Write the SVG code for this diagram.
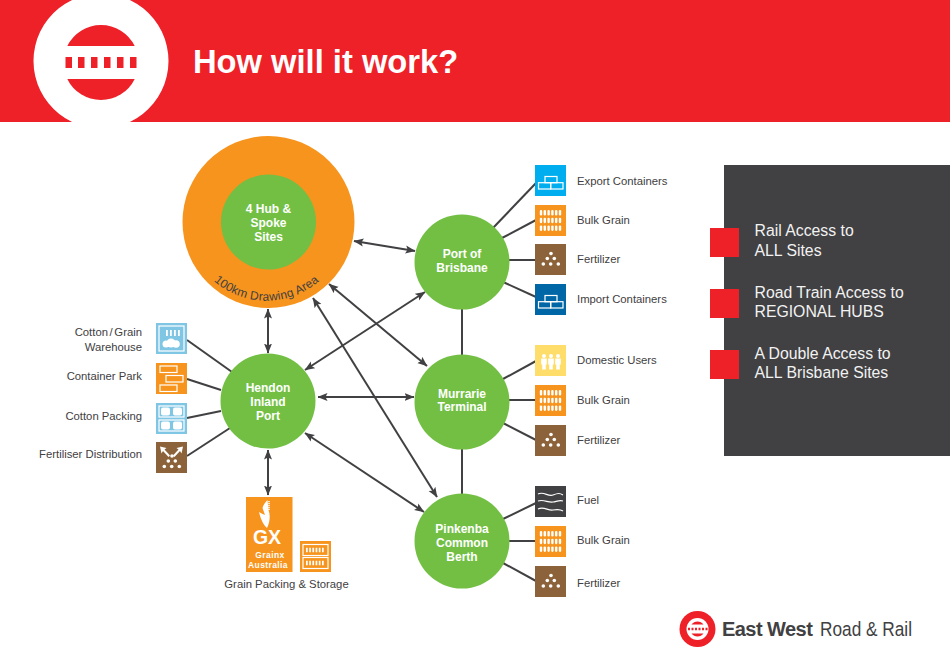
<svg xmlns="http://www.w3.org/2000/svg" width="950" height="672" viewBox="0 0 950 672">
<style>
text{font-family:"Liberation Sans",Arial,sans-serif}
.lab{font-size:11.3px;fill:#414042}
.end{text-anchor:end}
.node{font-size:12px;font-weight:bold;fill:#fff;text-anchor:middle}
.panel{font-size:15.8px;fill:#f1f2f2}
.ln{stroke:#414042;stroke-width:2;fill:none}
.arr{marker-start:url(#ah);marker-end:url(#ah)}
.g{fill:#72bf44}
.w{fill:#fff}
.wl{fill:none;stroke:#fff;stroke-width:1.2}
.bgr{fill:#ee2028}
.gx{font-weight:bold;fill:#fff;text-anchor:middle}
</style>
<defs>
<marker id="ah" viewBox="0 0 10 10" refX="9.5" refY="5" markerUnits="userSpaceOnUse" markerWidth="10" markerHeight="10" orient="auto-start-reverse"><path d="M0 1L10 5L0 9L2 5Z" fill="#414042"/></marker>
<g id="pills"><g id="pr"><rect x="6" y="5" width="2.4" height="5.5" rx="1.1" class="w"/><rect x="9.8" y="5" width="2.4" height="5.5" rx="1.1" class="w"/><rect x="13.6" y="5" width="2.4" height="5.5" rx="1.1" class="w"/><rect x="17.4" y="5" width="2.4" height="5.5" rx="1.1" class="w"/><rect x="21.2" y="5" width="2.4" height="5.5" rx="1.1" class="w"/><rect x="25" y="5" width="2.4" height="5.5" rx="1.1" class="w"/></g><use href="#pr" y="7.7"/><use href="#pr" y="15.4"/></g>
<g id="ico-grain"><rect width="31" height="31" fill="#f7941d"/><use href="#pills" x="-1.2"/></g>
<g id="dots"><circle cx="16" cy="9.500" r="1.800" class="w"/><circle cx="12.300" cy="14.500" r="1.800" class="w"/><circle cx="19.300" cy="14.500" r="1.800" class="w"/><circle cx="8.300" cy="20" r="1.800" class="w"/><circle cx="15.700" cy="20" r="1.800" class="w"/><circle cx="23.300" cy="20" r="1.800" class="w"/></g>
<g id="ico-fert"><rect width="31" height="31" fill="#8b6239"/><use href="#dots"/></g>
<g id="boxes"><rect x="10" y="11.500" width="12" height="6.200" class="wl"/><rect x="3.500" y="17.700" width="12.200" height="6.300" class="wl"/><rect x="15.700" y="17.700" width="12.300" height="6.300" class="wl"/></g>
<g id="person"><circle cx="0" cy="11.500" r="2" class="w"/><path d="M-2.800 14h5.600v6h-1v5h-3.600v-5h-1Z" class="w"/></g>
</defs>
<rect width="950" height="672" fill="#fff"/>
<g id="header">
<rect width="950" height="122" class="bgr"/>
<path d="M72.100 122A67.500 67.500 0 1 1 129.900 122Z" fill="#fff"/>
<path d="M67.300 46A37.500 37.500 0 0 1 134.700 46Z" class="bgr"/>
<path d="M67.300 79A37.500 37.500 0 0 0 134.700 79Z" class="bgr"/>
<g class="bgr"><rect x="65.500" y="57" width="6.500" height="11"/><rect x="78" y="57" width="6.500" height="11"/><rect x="91" y="57" width="6.500" height="11"/><rect x="104" y="57" width="6.500" height="11"/><rect x="117" y="57" width="6.500" height="11"/><rect x="130" y="57" width="6.500" height="11"/></g>
<text x="193" y="73" font-size="32.700" font-weight="bold" fill="#fff">How will it work?</text>
</g>
<g id="connectors">
<line class="ln arr" x1="354" y1="241" x2="415" y2="251"/>
<line class="ln arr" x1="268" y1="309" x2="268" y2="353"/>
<line class="ln arr" x1="305" y1="370" x2="425" y2="292"/>
<line class="ln arr" x1="329" y1="284" x2="427" y2="366"/>
<line class="ln arr" x1="313" y1="298" x2="437" y2="497"/>
<line class="ln arr" x1="318" y1="397" x2="414" y2="397"/>
<line class="ln arr" x1="305" y1="433" x2="424" y2="512"/>
<line class="ln arr" x1="268" y1="450" x2="268" y2="495"/>
<line class="ln" x1="462" y1="308" x2="462" y2="356"/>
<line class="ln" x1="462" y1="448" x2="462" y2="496"/>
<line class="ln" x1="493" y1="228" x2="536" y2="183"/>
<line class="ln" x1="502" y1="238" x2="536" y2="220"/>
<line class="ln" x1="509" y1="260" x2="536" y2="260"/>
<line class="ln" x1="503" y1="282" x2="536" y2="297"/>
<line class="ln" x1="503" y1="379" x2="536" y2="361"/>
<line class="ln" x1="509" y1="400" x2="536" y2="400"/>
<line class="ln" x1="503" y1="423" x2="536" y2="440"/>
<line class="ln" x1="503" y1="519" x2="536" y2="503"/>
<line class="ln" x1="509" y1="541" x2="536" y2="541"/>
<line class="ln" x1="503" y1="563" x2="536" y2="581"/>
<line class="ln" x1="187" y1="340" x2="232" y2="372"/>
<line class="ln" x1="187" y1="379" x2="221" y2="390"/>
<line class="ln" x1="187" y1="418" x2="221" y2="411"/>
<line class="ln" x1="187" y1="456" x2="230" y2="428"/>
</g>
<g id="hub">
<circle cx="268.500" cy="222" r="86" fill="#f7941d"/>
<circle cx="268.500" cy="222" r="47.500" class="g"/>
<text class="node" x="268.500" y="213">4 Hub &amp;</text>
<text class="node" x="268.500" y="227">Spoke</text>
<text class="node" x="268.500" y="241">Sites</text>
<path id="arc" d="M198 262A80 80 0 0 0 335 262" fill="none"/>
<text font-size="12" fill="#414042" letter-spacing=".2"><textPath href="#arc" startOffset="50%" text-anchor="middle">100km Drawing Area</textPath></text>
</g>
<g id="port-of-brisbane"><circle cx="462" cy="262" r="47.500" class="g"/><text class="node" x="462" y="258">Port of</text><text class="node" x="462" y="272">Brisbane</text></g>
<g id="murrarie-terminal"><circle cx="462" cy="402" r="47.500" class="g"/><text class="node" x="462" y="398">Murrarie</text><text class="node" x="462" y="411">Terminal</text></g>
<g id="pinkenba-common-berth"><circle cx="462" cy="541" r="47.500" class="g"/><text class="node" x="462" y="533">Pinkenba</text><text class="node" x="462" y="547">Common</text><text class="node" x="462" y="561">Berth</text></g>
<g id="hendon-inland-port"><circle cx="268" cy="401" r="47.500" class="g"/><text class="node" x="268" y="392">Hendon</text><text class="node" x="268" y="406">Inland</text><text class="node" x="268" y="420">Port</text></g>
<g id="export-containers"><rect x="535" y="165" width="31" height="31" fill="#00aeef"/><use href="#boxes" x="535" y="165"/><text class="lab" x="577" y="185">Export Containers</text></g>
<g id="port-bulk-grain"><use href="#ico-grain" x="535" y="205"/><text class="lab" x="577" y="224">Bulk Grain</text></g>
<g id="port-fertilizer"><use href="#ico-fert" x="535" y="244"/><text class="lab" x="577" y="263">Fertilizer</text></g>
<g id="import-containers"><rect x="535" y="284" width="31" height="31" fill="#0067a6"/><use href="#boxes" x="535" y="284"/><text class="lab" x="577" y="303">Import Containers</text></g>
<g id="domestic-users"><rect x="535" y="345" width="31" height="31" fill="#ffdd6b"/><use href="#person" x="544" y="344.500"/><use href="#person" x="551" y="344.500"/><use href="#person" x="558" y="344.500"/><text class="lab" x="577" y="364">Domestic Users</text></g>
<g id="murrarie-bulk-grain"><use href="#ico-grain" x="535" y="385"/><text class="lab" x="577" y="404">Bulk Grain</text></g>
<g id="murrarie-fertilizer"><use href="#ico-fert" x="535" y="425"/><text class="lab" x="577" y="444">Fertilizer</text></g>
<g id="fuel"><rect x="535" y="486" width="31" height="31" fill="#414042"/><g class="wl"><path d="M538 494c6-3 10 3 15 1s7-2 10 0"/><path d="M538 501c6-2 10 2 15 1s7-2 10-1"/><path d="M538 509c6-3 10 2 15 1s7-1 10 1"/></g><text class="lab" x="577" y="504">Fuel</text></g>
<g id="pinkenba-bulk-grain"><use href="#ico-grain" x="535" y="526"/><text class="lab" x="577" y="544">Bulk Grain</text></g>
<g id="pinkenba-fertilizer"><use href="#ico-fert" x="535" y="566"/><text class="lab" x="577" y="587">Fertilizer</text></g>
<g id="cotton-grain-warehouse"><rect x="156" y="323" width="31" height="31" fill="#7fc5e4"/><rect x="159" y="326" width="25" height="25" class="wl"/><g class="w"><rect x="166" y="330" width="1.800" height="6"/><rect x="170" y="330" width="1.800" height="6"/><rect x="174" y="330" width="1.800" height="6"/><rect x="178" y="330" width="1.800" height="6"/><circle cx="166" cy="344" r="3.500"/><circle cx="171" cy="343" r="4.500"/><circle cx="176" cy="344" r="3.800"/></g><text class="lab end" x="142" y="336" word-spacing="-1.500">Cotton / Grain</text><text class="lab end" x="142" y="351">Warehouse</text></g>
<g id="container-park"><rect x="156" y="363" width="31" height="31" fill="#f7941d"/><g class="wl"><rect x="160" y="366" width="17" height="6.500"/><rect x="166" y="375.500" width="17" height="6.500"/><rect x="160" y="385" width="17" height="6.500"/></g><text class="lab end" x="142" y="380">Container Park</text></g>
<g id="cotton-packing"><rect x="156" y="403" width="31" height="31" fill="#7fc5e4"/><g class="wl"><rect x="159" y="406" width="25" height="11"/><rect x="159" y="420" width="25" height="11"/></g><g class="w"><rect x="161" y="407.500" width="9" height="8" rx="2"/><rect x="173" y="407.500" width="9" height="8" rx="2"/><rect x="161" y="421.500" width="9" height="8" rx="2"/><rect x="173" y="421.500" width="9" height="8" rx="2"/></g><text class="lab end" x="142" y="420">Cotton Packing</text></g>
<g id="fertiliser-distribution"><rect x="156" y="442" width="31" height="31" fill="#8b6239"/><use href="#dots" x="156" y="446.500"/><path d="M160 446.500l6.500 1.500-2 1.500 5.500 6-1.500 1.500-5.500-6-1.500 2.500Z" class="w"/><path d="M183 446.500l-6.500 1.500 2 1.500-5.500 6 1.500 1.500 5.500-6 1.500 2.500Z" class="w"/><text class="lab end" x="142" y="458">Fertiliser Distribution</text></g>
<g id="grainx-australia"><rect x="246" y="497" width="46.500" height="75" fill="#f7941d"/><path d="M267.500 500C265 503 263 505 262.500 508L265 515C262.500 514 260.500 513 259 512C260.500 519 263.500 525 267 528C270 522 270.500 515 268.500 510Z" class="w"/><path d="M269 501v9" stroke="#fff" stroke-width="1.500" stroke-dasharray="1.200 .8" fill="none"/><text class="gx" x="267" y="544" font-size="19.500">GX</text><text class="gx" x="270" y="558" font-size="8.500" letter-spacing=".4">Grainx</text><text class="gx" x="268" y="567.500" font-size="8.500" letter-spacing=".4">Australia</text></g>
<g id="grain-packing-storage"><rect x="300" y="541" width="31" height="31" fill="#f7941d"/><g fill="none" stroke="#fff" stroke-width="1.200"><rect x="303" y="544.500" width="25" height="11"/><rect x="303" y="557.500" width="25" height="11"/></g><g stroke="#fff" stroke-width="4.500" stroke-dasharray="1.700 1.500" fill="none"><line x1="306" y1="550" x2="325" y2="550"/><line x1="306" y1="563" x2="325" y2="563"/></g><text class="lab" x="286.500" y="588" text-anchor="middle">Grain Packing &amp; Storage</text></g>
<g id="panel">
<rect x="724" y="165" width="226" height="291" fill="#414042"/>
<rect x="710" y="228" width="29" height="29" class="bgr"/>
<rect x="710" y="289" width="29" height="29" class="bgr"/>
<rect x="710" y="350" width="29" height="29" class="bgr"/>
<text class="panel" x="754.500" y="236">Rail Access to</text><text class="panel" x="754.500" y="256">ALL Sites</text>
<text class="panel" x="754.500" y="298">Road Train Access to</text><text class="panel" x="754.500" y="317">REGIONAL HUBS</text>
<text class="panel" x="754.500" y="359">A Double Access to</text><text class="panel" x="754.500" y="378">ALL Brisbane Sites</text>
</g>
<g id="logo">
<circle cx="697.500" cy="629" r="18" class="bgr"/>
<circle cx="697.500" cy="629" r="11" fill="#fff"/>
<path d="M691.500 624.500A7.500 7.500 0 0 1 703.500 624.500Z" class="bgr"/>
<path d="M691.500 633.500A7.500 7.500 0 0 0 703.500 633.500Z" class="bgr"/>
<path d="M688 629h19.500" stroke="#ee2028" stroke-width="2.500" stroke-dasharray="2 1.500" fill="none"/>
<text x="722" y="636" font-size="20" font-weight="bold" fill="#414042" letter-spacing="-.55">East West</text>
<text x="820" y="636" font-size="20.500" fill="#414042" textLength="92" lengthAdjust="spacingAndGlyphs">Road &amp; Rail</text>
</g>
</svg>
